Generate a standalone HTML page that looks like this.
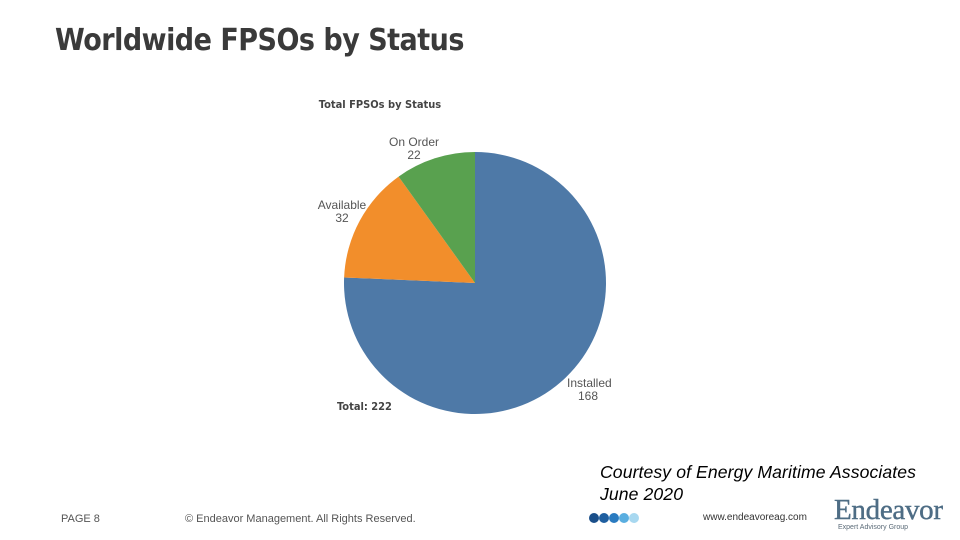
<!DOCTYPE html>
<html><head><meta charset="utf-8">
<style>
body{margin:0;width:960px;height:540px;background:#fff;position:relative;overflow:hidden;font-family:"Liberation Sans",sans-serif}
.abs{position:absolute;margin:0}
</style></head>
<body>
<h1 class="abs" style="left:55px;top:23px;font-size:30px;font-weight:bold;color:#3a3a3a;font-family:'DejaVu Sans Condensed','Liberation Sans',sans-serif;letter-spacing:-0.5px">Worldwide FPSOs by Status</h1>
<svg class="abs" style="left:0;top:0" width="960" height="540">
<text x="380" y="108" text-anchor="middle" font-size="11" font-weight="bold" fill="#444" font-family="DejaVu Sans Condensed, Liberation Sans, sans-serif">Total FPSOs by Status</text>
<g id="slices"></g>
<text x="337" y="410" font-size="11" font-weight="bold" fill="#444" font-family="DejaVu Sans Condensed, Liberation Sans, sans-serif">Total: 222</text>
</svg>
<div class="abs" style="left:600px;top:461px;font-size:17.6px;font-style:italic;line-height:22px;color:#000;letter-spacing:0.1px">Courtesy of Energy Maritime Associates<br>June 2020</div>
<div class="abs" style="left:61px;top:513px;font-size:11px;color:#555">PAGE 8</div>
<div class="abs" style="left:185px;top:513px;font-size:11px;color:#555">© Endeavor Management. All Rights Reserved.</div>
<svg class="abs" style="left:588px;top:512px" width="56" height="12">
<circle cx="6" cy="6" r="5" fill="#1a4f8a"/><circle cx="16" cy="6" r="5" fill="#1f5fa0"/><circle cx="26" cy="6" r="5" fill="#2a7bc0"/><circle cx="36" cy="6" r="5" fill="#5aaee0"/><circle cx="46" cy="6" r="5" fill="#a8d8f0"/>
</svg>
<div class="abs" style="left:703px;top:512px;font-size:10px;color:#333">www.endeavoreag.com</div>
<div class="abs" style="left:834px;top:496px;font-family:'Liberation Serif',serif;font-size:29px;color:#4e6d85;line-height:29px;letter-spacing:-0.3px;-webkit-text-stroke:0.4px #4e6d85">Endeavor</div>
<div class="abs" style="left:838px;top:524px;font-size:7px;color:#5b6b78">Expert Advisory Group</div>
<script>
const categories=["Installed","Available","On Order"];
const values=[168,32,22];
const colors=["#4e79a7","#f28e2b","#59a14f"];
const cx=475,cy=283,r=131;
const g=document.getElementById('slices');
const total=values.reduce((a,b)=>a+b,0);
const NS="http://www.w3.org/2000/svg";
function pt(a,rr){return [cx+rr*Math.sin(a),cy-rr*Math.cos(a)];}
let a0=0;
const labelPos=[[567,378,"start"],[342,200,"middle"],[414,137,"middle"]];
values.forEach((v,i)=>{
  const a1=a0+v/total*2*Math.PI;
  const p0=pt(a0,r),p1=pt(a1,r);
  const large=(a1-a0)>Math.PI?1:0;
  const p=document.createElementNS(NS,'path');
  p.setAttribute('d',`M${cx},${cy} L${p0[0]},${p0[1]} A${r},${r} 0 ${large} 1 ${p1[0]},${p1[1]} Z`);
  p.setAttribute('fill',colors[i]);
  
  
  g.appendChild(p);
  const lp=labelPos[i];
  const t=document.createElementNS(NS,'text');
  t.setAttribute('x',lp[0]);t.setAttribute('y',lp[1]+9);
  t.setAttribute('font-size','12');t.setAttribute('fill','#555');
  t.setAttribute('text-anchor',lp[2]);
  
  
  const s1=document.createElementNS(NS,'tspan');s1.setAttribute('x',lp[0]);s1.textContent=categories[i];
  const s2=document.createElementNS(NS,'tspan');s2.setAttribute('x',i==0?lp[0]+21:lp[0]);s2.setAttribute('dy','13');s2.setAttribute('text-anchor','middle');s2.textContent=v;
  t.appendChild(s1);t.appendChild(s2);
  g.parentNode.appendChild(t);
  a0=a1;
});
</script>
</body></html>
